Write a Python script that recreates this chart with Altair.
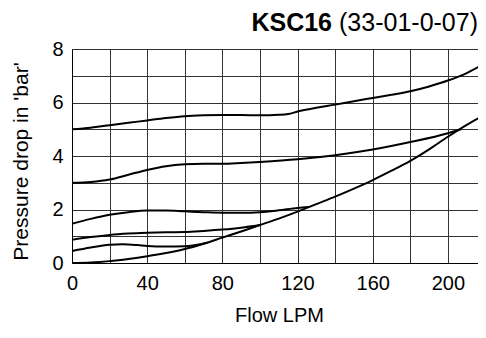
import altair as alt
import pandas as pd

# ---- data ----
flow_a = [0, 10, 20, 30, 40, 50, 60, 70, 80, 90, 100, 110, 115, 120, 130, 140, 150, 160, 170, 180, 190, 200, 210, 220]
dp_a = [5.00, 5.06, 5.15, 5.24, 5.33, 5.42, 5.49, 5.52, 5.53, 5.53, 5.52, 5.54, 5.57, 5.66, 5.80, 5.92, 6.05, 6.17, 6.29, 6.42, 6.60, 6.82, 7.10, 7.48]

flow_b = [0, 10, 20, 30, 40, 50, 60, 70, 80, 90, 100, 120, 140, 160, 180, 200, 207]
dp_b = [3.00, 3.03, 3.12, 3.30, 3.48, 3.62, 3.69, 3.71, 3.71, 3.74, 3.78, 3.88, 4.03, 4.24, 4.52, 4.85, 5.00]

flow_c = [0, 10, 20, 30, 40, 50, 60, 70, 80, 90, 100, 110, 120, 126]
dp_c = [1.47, 1.65, 1.80, 1.90, 1.96, 1.96, 1.93, 1.90, 1.88, 1.88, 1.90, 1.97, 2.06, 2.09]

flow_d = [0, 10, 20, 30, 40, 50, 60, 70, 80, 90, 100, 110, 120, 130, 140, 150, 160, 170, 180, 190, 200, 210, 220]
dp_d = [0.00, 0.02, 0.07, 0.15, 0.25, 0.37, 0.52, 0.72, 0.95, 1.18, 1.42, 1.66, 1.92, 2.20, 2.48, 2.78, 3.10, 3.45, 3.82, 4.25, 4.72, 5.16, 5.57]

flow_e = [0, 10, 20, 30, 40, 50, 60, 70, 80, 90, 100]
dp_e = [0.87, 0.97, 1.05, 1.10, 1.13, 1.15, 1.16, 1.20, 1.25, 1.32, 1.42]

flow_f = [0, 10, 20, 27, 35, 40, 50, 60, 72]
dp_f = [0.45, 0.58, 0.68, 0.70, 0.67, 0.64, 0.62, 0.63, 0.76]

x_ticks = [0, 20, 40, 60, 80, 100, 120, 140, 160, 180, 200, 220]
y_ticks = [0, 1, 2, 3, 4, 5, 6, 7, 8]

title_bold = ["KSC16"]
title_rest = ["(33-01-0-07)"]

series = [("a", flow_a, dp_a), ("b", flow_b, dp_b), ("c", flow_c, dp_c),
          ("d", flow_d, dp_d), ("e", flow_e, dp_e), ("f", flow_f, dp_f)]
rows = []
for name, xs, ys in series:
    for x, y in zip(xs, ys):
        rows.append({"series": name, "flow": x, "dp": y})
df = pd.DataFrame(rows)

W, H = 406, 214
FONT = "Liberation Sans"

x_axis = alt.Axis(
    values=x_ticks, labelExpr="datum.value % 40 == 0 ? datum.label : ''",
    grid=True, gridColor="#333", gridWidth=1, domainColor="#000", domainWidth=1,
    tickSize=0, labelPadding=10, labelFontSize=20, labelColor="#000", labelFont=FONT,
    labelFlush=False, labelOverlap=False,
    title="Flow LPM", titleFontSize=20, titleFontWeight="normal", titleColor="#000",
    titleFont=FONT, titleX=207, titleY=58, titleBaseline="alphabetic", titleAlign="center",
)
y_axis = alt.Axis(
    values=y_ticks, labelExpr="datum.value % 2 == 0 ? datum.label : ''",
    grid=True, gridColor="#333", gridWidth=1, domainColor="#000", domainWidth=1,
    tickSize=0, labelPadding=9, labelFontSize=20, labelColor="#000", labelFont=FONT,
    labelFlush=False, labelOverlap=False,
    title="Pressure drop in 'bar'", titleFontSize=21, titleFontWeight="normal",
    titleColor="#000", titleFont=FONT, titleX=-45, titleY=112,
    titleBaseline="alphabetic", titleAlign="center", titleAngle=270,
)

lines = alt.Chart(df).mark_line(
    clip=True, strokeWidth=2, color="black", interpolate="monotone"
).encode(
    x=alt.X("flow:Q", scale=alt.Scale(domain=[0, 216], nice=False), axis=x_axis),
    y=alt.Y("dp:Q", scale=alt.Scale(domain=[0, 8], nice=False), axis=y_axis),
    detail="series:N",
    order="flow:Q",
)

t_bold = alt.Chart(pd.DataFrame({"t": title_bold})).mark_text(
    font=FONT, fontSize=25, fontWeight="bold", align="right", baseline="alphabetic", color="#000"
).encode(text="t:N", x=alt.value(260), y=alt.value(-18))

t_rest = alt.Chart(pd.DataFrame({"t": title_rest})).mark_text(
    font=FONT, fontSize=25, align="right", baseline="alphabetic", color="#000"
).encode(text="t:N", x=alt.value(W), y=alt.value(-18))

chart = alt.layer(lines, t_bold, t_rest).properties(
    width=W, height=H,
    padding={"left": 64, "top": 41, "right": 0, "bottom": 63},
    autosize=alt.AutoSizeParams(type="none"),
    background="white",
).configure_view(strokeWidth=0)

chart.save("out.html", embed_options={"renderer": "svg", "actions": False})
